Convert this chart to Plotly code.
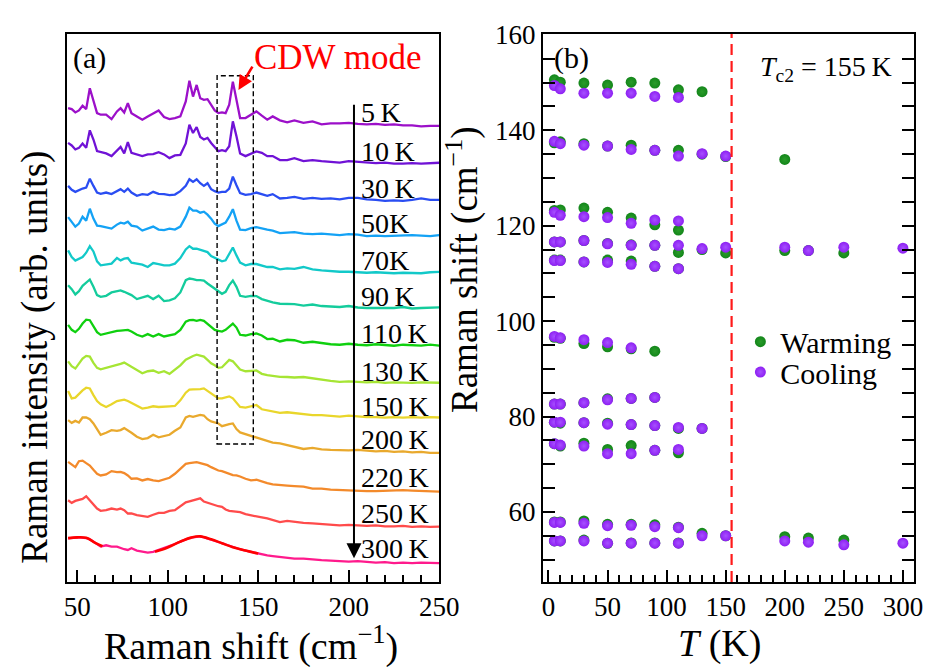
import plotly.graph_objects as go

# ---------------- Panel (a): stacked Raman spectra ----------------
raman_shift = [45, 47, 49, 51, 53, 55, 57, 59, 61, 63,
               66, 69, 72, 74, 76, 78, 80, 83, 86, 89,
               92, 95, 98, 101, 104, 107, 110, 112, 114, 116,
               118, 120, 122, 124, 126, 128, 130, 132, 134, 136,
               138, 140, 143, 146, 149, 152, 155, 158, 162, 166,
               170, 175, 180, 185, 190, 195, 200, 205, 210, 215,
               220, 225, 230, 235, 240, 245, 250]

int_5K = [477.3, 476.3, 473, 475, 479.7, 476.3, 497.3, 484, 472.3, 470.7,
          470.7, 466.3, 474, 477.3, 473, 482.3, 472.3, 469, 465.7, 469,
          471.7, 475, 468.3, 466.3, 467.3, 469, 484, 505, 489, 500.7,
          487.3, 485.7, 486.3, 480.7, 475, 472.3, 473, 472.3, 480.7, 504,
          485.7, 467.3, 467.3, 470.7, 474, 469.7, 465.7, 469, 465, 463,
          465, 462.5, 464, 461, 462, 462, 462.5, 461.5, 461, 461.5,
          460.5, 461, 460, 460, 459, 459.5, 459.5]
int_10K = [442.3, 439.7, 435.7, 437.3, 441.7, 437.3, 455, 445.7, 434, 433,
           431.7, 429, 434, 438.3, 431.7, 443, 432.3, 430.7, 429, 430.7,
           431, 433, 430.7, 427, 429.7, 430.3, 441.7, 460.7, 452.3, 458.3,
           448.3, 445.7, 447.3, 442.3, 438.3, 434, 435, 434, 439, 464,
           449, 431.7, 429, 431, 433.7, 432.3, 429, 429, 425, 425,
           427, 424, 425, 424, 423, 422.5, 424, 423.5, 423, 422,
           422.5, 421.5, 421.5, 422, 421.5, 422, 422.3]
int_30K = [399, 395, 393, 395, 396.3, 397.3, 406.3, 399, 392.3, 391,
           392.3, 390.7, 394, 395.7, 393, 396.3, 392.3, 389, 390.7, 390,
           393, 391, 390.7, 389.7, 390.3, 393.7, 399, 405.7, 403, 405.7,
           401.7, 399, 401.7, 395.7, 393.7, 392.3, 393, 393, 396.3, 408.3,
           399.7, 391.7, 390, 390.7, 392.3, 390.7, 389, 390.7, 386.3, 387,
           388, 386, 387, 386, 386.5, 385.5, 387, 387, 385.5, 385,
           384, 384.5, 384, 385, 386.5, 385, 385]
int_50K = [367.5, 363, 358, 361, 368, 364, 376, 366, 359, 358.5,
           357, 356, 360, 362, 361, 363, 359, 358, 354, 356,
           358, 355, 354.5, 356, 355, 358, 368, 377, 374, 374,
           372, 373, 370, 366, 361, 358.5, 360, 362, 368, 375.5,
           364, 355, 354.5, 356.5, 357.5, 356, 355, 354, 351.5, 352,
           352.5, 351, 350.5, 351, 350, 349.5, 350.5, 350, 348.5, 349,
           348.5, 349, 349, 349.5, 349, 348.5, 349.5]
int_70K = [334, 327.3, 323.7, 325.7, 327.3, 331.7, 338.3, 333, 323, 319,
           319.7, 320.7, 326.3, 324, 325.7, 326.3, 321.7, 320.7, 319.7, 317.3,
           321.3, 320.3, 319, 319, 320.7, 326.3, 335, 338.3, 335.7, 335.7,
           334.3, 333.7, 332.3, 328.3, 326.3, 325, 323, 324, 330.7, 337,
           329, 321.7, 319, 320.3, 320.3, 319, 317.3, 317.3, 315, 316,
           315.5, 317.3, 315, 314, 313, 312.5, 312.5, 312, 311.5, 312,
           311.5, 311, 311.5, 311, 311, 312, 312.3]
int_90K = [299, 295, 289.7, 293, 298.3, 301.7, 304.7, 297.3, 289, 287.3,
           288.3, 291.7, 293, 293.7, 292.3, 291, 289, 285, 286.3, 288.3,
           285, 288.3, 283, 283.7, 285.7, 291.7, 304, 305.7, 305, 304,
           304, 303.7, 300.7, 298.3, 295.7, 293, 290.3, 292.3, 299, 303.7,
           297.3, 288.3, 287.3, 288.3, 288, 285, 283, 281.7, 280.3, 280.5,
           280, 278.5, 279.5, 278, 277.5, 277, 278, 276.5, 276, 276,
           276.5, 276, 277, 275.5, 276, 276.5, 276.7]
int_110K = [259, 254, 251.7, 255, 260.3, 264.3, 263.7, 257.3, 251.7, 249,
            250.3, 252.3, 253, 253.3, 253.7, 254, 252.3, 249, 247.3, 249.7,
            247.3, 249.7, 247.3, 248.3, 249.7, 254, 262.3, 263.7, 264, 263,
            264, 263, 259.7, 256.3, 254, 253, 252.3, 254, 257.3, 260.3,
            256.3, 249, 248.3, 249.7, 250.3, 248.3, 244.7, 245, 242.3, 244,
            243.5, 241, 242, 240.5, 239.5, 239, 240, 239, 238.5, 239.5,
            238.5, 238, 239, 238.5, 238, 239, 238]
int_130K = [222.3, 217.3, 215, 219.7, 225, 227.7, 227, 220.7, 215.7, 214.3,
            215.7, 217.3, 218.3, 219.7, 221, 219, 216.3, 214, 210.3, 212.3,
            213, 210.7, 212.3, 209.7, 213.7, 218.3, 224, 226.3, 227.7, 229,
            227.7, 227, 223.7, 220.3, 218.3, 215.7, 216.3, 219.7, 223.7, 222.3,
            218.3, 214, 212.3, 213, 213, 209.7, 208.3, 207.7, 206.7, 206.5,
            206, 206.5, 205, 203.5, 202.5, 201.5, 202, 201.5, 201, 201.5,
            200.5, 201, 200.5, 200.5, 201, 200.5, 200.7]
int_150K = [192.3, 185, 185.7, 189.7, 193, 195.7, 195, 188.3, 182.3, 179,
            176.3, 179, 182.3, 183, 183.7, 182.3, 180.3, 177.3, 174.7, 175.7,
            177, 176.3, 177, 177, 177.3, 183, 190.7, 193.7, 194, 194,
            194.3, 195, 192.3, 189.7, 187, 185, 185, 185.7, 187, 185,
            180.7, 176.3, 175.7, 177.3, 178.3, 174, 173, 172.3, 170.3, 171,
            170, 169.5, 168, 168, 167, 166.5, 167.5, 166.5, 166, 166,
            165.5, 166, 165.5, 166, 165.5, 166, 165.7]
int_200K = [163, 160.3, 162.3, 160.7, 165.7, 165.7, 164, 159.7, 154, 148.3,
            150.3, 153, 152.3, 153, 155, 153, 150.3, 146.3, 144, 145,
            148.3, 145.7, 147.3, 148.3, 152.3, 155.7, 165.7, 167.3, 166.3, 167.7,
            168.3, 167.7, 164, 161.7, 160.3, 159.7, 157, 158.3, 159, 159.7,
            154, 150.7, 149, 147.3, 145, 143.7, 142.3, 140.3, 139.7, 138,
            136, 134, 135, 133.5, 133, 132.5, 132.5, 133, 132, 131.5,
            132, 131, 131.5, 130.5, 131, 130, 130]
int_220K = [121, 118.3, 115.7, 121.7, 122.3, 119.7, 117.3, 113, 109, 107.3,
            108.3, 111.7, 110.7, 111, 109.7, 107.3, 104, 104.3, 102.3, 103.7,
            102.3, 101.7, 103, 105, 109, 114, 119, 119.7, 120.3, 120.7,
            119.7, 119, 117.7, 115.7, 113.7, 112.3, 111.7, 110.3, 109, 107.7,
            107.3, 106.3, 104, 102.3, 103, 101.7, 99.7, 98.3, 97.3, 97,
            96.5, 96, 94, 94, 93, 92.5, 92.5, 92, 91.5, 91.5,
            92, 92, 92.5, 92, 91.5, 91, 91]
int_250K = [82.3, 79.7, 81.7, 83, 83.7, 86.3, 82.3, 78.3, 74, 71.7,
            72.3, 74, 73, 74, 72.3, 69, 69, 67.3, 66.3, 65.7,
            67.7, 69.7, 69.7, 71.7, 72.3, 76.3, 80.3, 81.3, 82.3, 84,
            84.3, 81, 79.7, 78.3, 77, 76.3, 75.7, 73, 71.7, 71.3,
            71, 70.3, 68.3, 67, 65.7, 65, 64, 62.3, 60.3, 61.5,
            60.5, 59.5, 59, 58.5, 57.5, 57, 57.5, 57, 56.5, 57,
            56, 56, 56.5, 55.5, 56, 55.5, 55.7]
int_300K = [44, 44, 44.7, 45, 45, 44.3, 43, 40.7, 38.3, 35.7,
            37, 35.7, 35.7, 34.3, 33, 32.3, 34, 31.7, 30.7, 29.7,
            30.3, 32.3, 33.7, 35.7, 38.3, 40.7, 43, 44.3, 45, 45.7,
            46, 45, 44, 43, 41.7, 40.3, 39, 37.7, 36.3, 35,
            34, 33, 31.7, 30.3, 29, 27.7, 26.7, 26, 25, 24.5,
            23.5, 23.5, 22.5, 22, 21.5, 21, 20.5, 21, 20, 19.5,
            20, 19, 19.5, 19, 19.5, 19, 19]

# smoothed (red) segments drawn over the 300 K spectrum
smooth_300K_x = [45, 50, 55, 60, 64, None, 93, 100, 107, 113, 118, 124, 130, 136, 143, 150]
smooth_300K_y = [44.2, 45, 44.5, 39.5, 36, None, 30.5, 34.8, 40.7, 44.7, 46, 43, 39, 35, 31.7, 28.6]

spectra = [int_5K, int_10K, int_30K, int_50K, int_70K, int_90K, int_110K,
           int_130K, int_150K, int_200K, int_220K, int_250K, int_300K]
temp_labels = ["5\u2009K", "10\u2009K", "30\u2009K", "50K", "70K", "90\u2009K", "110\u2009K",
               "130\u2009K", "150\u2009K", "200\u2009K", "220\u2009K", "250\u2009K", "300\u2009K"]
label_levels = [473, 434, 396, 361, 324, 288, 250, 212, 177, 144, 105, 69, 34]
spec_colors = ["#9c10c9", "#7012d6", "#2a4df2", "#14a2f5", "#12c9c9", "#14cc9c", "#0fd00f",
               "#a6e534", "#e9d62b", "#e9a92d", "#f38a2b", "#ff4b4b", "#ff1a8c"]

# ---------------- Panel (b): mode frequencies vs temperature ----------------
warm_T = [5, 10, 30, 50, 70, 90, 110, 130,
          5, 10, 30, 50, 70, 90, 110, 130, 150, 200,
          5, 10, 30, 50, 70, 90, 110,
          5, 10, 30, 50, 70, 90, 110, 130, 150, 200, 220, 250,
          5, 10, 30, 50, 70, 90, 110,
          5, 10, 30, 50, 70, 90,
          5, 10, 30, 50, 70, 90,
          5, 10, 30, 50, 70, 90, 110, 130,
          5, 10, 30, 50, 70, 90, 110,
          5, 10, 30, 50, 70, 90, 110, 130, 150, 200, 220, 250,
          5, 10, 30, 50, 70, 90, 110]
warm_shift = [150.6, 150.1, 149.9, 149.5, 150.1, 149.9, 148.5, 148.1,
              137.4, 137.6, 137.2, 136.7, 136.9, 135.8, 135.8, 135.0, 134.5, 133.9,
              123.2, 123.3, 123.7, 122.8, 121.6, 120.2, 119.1,
              116.6, 116.6, 116.9, 116.3, 116.0, 115.9, 114.4, 115.0, 114.3, 114.8, 114.8, 114.3,
              112.8, 112.8, 112.4, 112.8, 112.6, 111.5, 111.0,
              96.6, 96.4, 95.3, 94.6, 94.2, 93.7,
              82.6, 82.6, 82.9, 83.7, 83.8, 84.0,
              78.8, 78.6, 78.7, 78.6, 78.3, 78.1, 77.5, 77.5,
              74.3, 73.8, 74.4, 73.1, 73.9, 72.9, 72.4,
              57.9, 57.9, 58.1, 57.4, 57.4, 57.3, 56.8, 55.5, 55.0, 54.8, 54.5, 54.1,
              53.9, 53.9, 54.1, 53.4, 53.5, 53.5, 53.5]
cool_T = [5, 10, 30, 50, 70, 90, 110,
          5, 10, 30, 50, 70, 90, 110, 130, 150,
          5, 10, 30, 50, 70, 90, 110,
          5, 10, 30, 50, 70, 90, 110, 130, 150, 200, 220, 250, 300,
          5, 10, 30, 50, 70, 90, 110,
          5, 10, 30, 50, 70,
          5, 10, 30, 50, 70, 90,
          5, 10, 30, 50, 70, 90, 110, 130,
          5, 10, 30, 50, 70, 90, 110,
          5, 10, 30, 50, 70, 90, 110, 130, 150,
          5, 10, 30, 50, 70, 90, 110, 200, 220, 250, 300]
cool_shift = [149.4, 148.7, 147.8, 147.8, 147.8, 147.1, 146.9,
              137.7, 137.2, 136.9, 136.7, 136.0, 135.8, 134.6, 135.1, 134.6,
              122.8, 122.2, 121.9, 121.7, 120.5, 121.2, 121.0,
              116.6, 116.6, 116.9, 116.2, 115.9, 115.9, 115.9, 115.2, 115.5, 115.5, 114.8, 115.5, 115.3,
              112.7, 112.7, 112.4, 112.3, 111.9, 111.5, 111.0,
              96.8, 96.5, 96.1, 95.5, 94.4,
              82.6, 82.6, 82.9, 83.5, 83.8, 84.0,
              78.8, 78.8, 78.7, 78.4, 78.3, 78.1, 77.7, 77.5,
              74.3, 74.0, 73.8, 72.2, 72.2, 72.9, 73.1,
              57.8, 57.8, 57.6, 57.1, 57.2, 56.9, 56.7, 55.0, 55.0,
              53.9, 53.9, 53.9, 53.45, 53.45, 53.45, 53.45, 53.9, 53.65, 53.1, 53.45]
T_c2 = 155

FONT = "Liberation Serif"

fig = go.Figure()

for ys, col in zip(spectra, spec_colors):
    fig.add_trace(go.Scatter(x=raman_shift, y=ys, mode="lines",
                             line=dict(color=col, width=2.3),
                             xaxis="x", yaxis="y", showlegend=False, hoverinfo="skip"))
fig.add_trace(go.Scatter(x=smooth_300K_x, y=smooth_300K_y, mode="lines",
                         line=dict(color="#ff0000", width=2.6, shape="spline"),
                         xaxis="x", yaxis="y", showlegend=False, hoverinfo="skip",
                         connectgaps=False))

fig.add_trace(go.Scatter(x=warm_T, y=warm_shift, mode="markers", name="Warming",
                         marker=dict(color="#13861a", size=11,
                                     gradient=dict(type="radial", color="#2a9c2a")),
                         xaxis="x2", yaxis="y2", legend="legend"))
fig.add_trace(go.Scatter(x=cool_T, y=cool_shift, mode="markers", name="Cooling",
                         marker=dict(color="#8d1ff2", size=11,
                                     gradient=dict(type="radial", color="#a650ff")),
                         xaxis="x2", yaxis="y2", legend="legend2"))

axis_common = dict(showline=True, linewidth=2, linecolor="black", showgrid=False,
                   zeroline=False, tickcolor="black", tickwidth=1.6,
                   tickfont=dict(family=FONT, size=27, color="black"))

legend_style = dict(xanchor="left", yanchor="top", bgcolor="rgba(0,0,0,0)",
                    font=dict(family=FONT, size=30), itemwidth=30)

fig.update_layout(
    width=938, height=667,
    margin=dict(l=59, r=20, t=22, b=93),
    paper_bgcolor="white", plot_bgcolor="white",
    font=dict(family=FONT, size=26, color="black"),
    xaxis=dict(domain=[0, 0.4395], range=[44.4, 250], anchor="y", mirror=True,
               ticks="inside", ticklen=12, tickmode="linear", tick0=0, dtick=50,
               minor=dict(ticks="inside", ticklen=7, dtick=10, tick0=0,
                          tickcolor="black", tickwidth=1.6),
               **axis_common),
    yaxis=dict(domain=[0, 1], range=[0, 552], anchor="x", mirror=True,
               showticklabels=False, ticks="", **axis_common),
    xaxis2=dict(domain=[0.5619, 1], range=[-4.7, 309.4], anchor="y2", mirror=True,
                ticks="inside", ticklen=12, tickmode="linear", tick0=0, dtick=50,
                minor=dict(ticks="inside", ticklen=7, dtick=10, tick0=0,
                           tickcolor="black", tickwidth=1.6),
                **axis_common),
    yaxis2=dict(domain=[0, 1], range=[45.3, 160.2], anchor="x2", mirror="ticks",
                ticks="inside", ticklen=12, tickmode="linear", tick0=0, dtick=20,
                minor=dict(ticks="inside", ticklen=12, dtick=5, tick0=0,
                           tickcolor="black", tickwidth=1.6),
                **axis_common),
    legend=dict(x=0.795, y=0.486, **legend_style),
    legend2=dict(x=0.795, y=0.4306, **legend_style),
    shapes=[
        dict(type="rect", xref="x", yref="y", x0=127.3, x1=147.3, y0=139, y1=510,
             line=dict(color="black", width=1.4, dash="5px,3px")),
        dict(type="line", xref="x2", yref="y2 domain", x0=T_c2, x1=T_c2, y0=0, y1=1,
             line=dict(color="#ff1a1a", width=2.2, dash="11px,6px")),
    ],
)

ann = []
for lab, lev in zip(temp_labels, label_levels):
    ann.append(dict(x=205.6, y=lev, xref="x", yref="y", text=lab, showarrow=False,
                    xanchor="left", yanchor="middle", font=dict(size=28)))
ann += [
    dict(x=46.4, y=528, xref="x", yref="y", text="(a)", showarrow=False,
         xanchor="left", yanchor="middle", font=dict(size=30)),
    dict(x=146.3, y=528, xref="x", yref="y", text="CDW mode", showarrow=False,
         xanchor="left", yanchor="middle", font=dict(size=35, color="#ff0000")),
    dict(x=139.1, y=495.7, ax=147.3, ay=520.7, xref="x", yref="y", axref="x", ayref="y",
         text="", showarrow=True, arrowhead=2, arrowsize=1.1, arrowwidth=2.6,
         arrowcolor="#ff0000"),
    dict(x=202.9, y=24, ax=202.9, ay=482.3, xref="x", yref="y", axref="x", ayref="y",
         text="", showarrow=True, arrowhead=2, arrowsize=1.5, arrowwidth=2,
         arrowcolor="black"),
    dict(x=3.4, y=155.2, xref="x2", yref="y2", text="(b)", showarrow=False,
         xanchor="left", yanchor="middle", font=dict(size=30)),
    dict(x=177.5, y=152.9, xref="x2", yref="y2",
         text="<i>T</i><sub>c2</sub> = 155\u2009K", showarrow=False,
         xanchor="left", yanchor="middle", font=dict(size=28)),
    dict(x=0.2177, y=-0.1123, xref="paper", yref="paper",
         text="Raman shift (cm<sup>\u22121</sup>)", showarrow=False,
         xanchor="center", yanchor="middle", font=dict(size=38)),
    dict(x=0.7707, y=-0.1123, xref="paper", yref="paper",
         text="<i>T</i> (K)", showarrow=False,
         xanchor="center", yanchor="middle", font=dict(size=38)),
    dict(x=-0.0373, y=0.41, xref="paper", yref="paper",
         text="Raman intensity (arb. units)", showarrow=False, textangle=-90,
         xanchor="center", yanchor="middle", font=dict(size=37)),
    dict(x=0.4673, y=0.569, xref="paper", yref="paper",
         text="Raman shift (cm<sup>\u22121</sup>)", showarrow=False, textangle=-90,
         xanchor="center", yanchor="middle", font=dict(size=37)),
]
fig.update_layout(annotations=ann)

fig.write_html("out.html")
